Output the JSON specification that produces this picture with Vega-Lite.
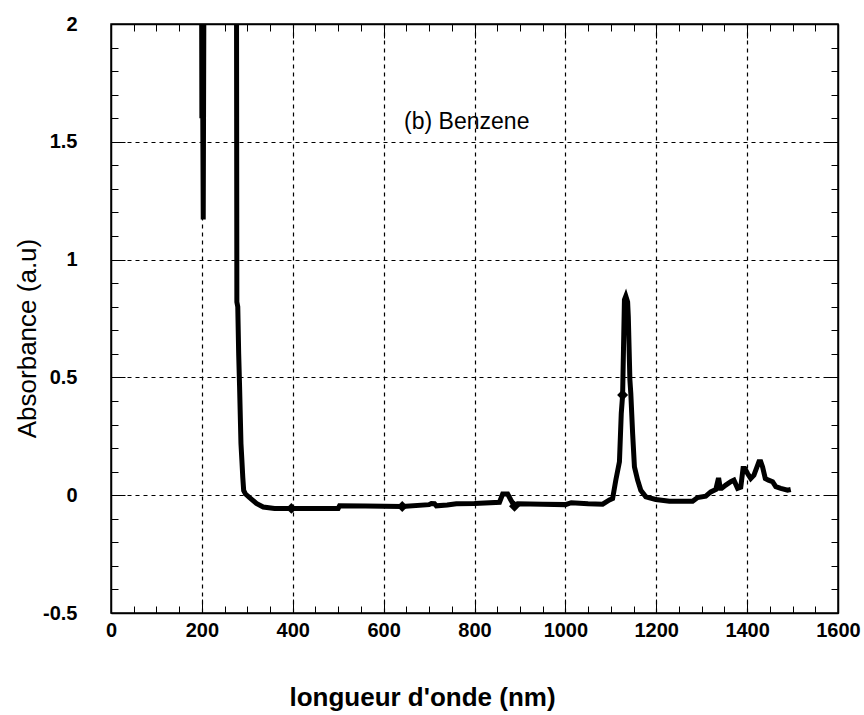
{
  "$schema": "https://vega.github.io/schema/vega-lite/v6.json",
  "width": 727,
  "height": 589,
  "autosize": {"type": "none"},
  "padding": {"left": 111, "top": 24, "right": 26, "bottom": 102},
  "background": "white",
  "config": {
    "font": "Liberation Sans",
    "view": {"stroke": "black", "strokeWidth": 1.5}
  },
  "datasets": {
    "spectrum": [
      {"nm": 199, "abs": 2.5}, {"nm": 200, "abs": 1.6}, {"nm": 201, "abs": 2.5}, {"nm": 202, "abs": 1.6},
      {"nm": 203, "abs": 1.17}, {"nm": 205, "abs": 2.5}, {"nm": 240, "abs": 2.5}, {"nm": 276, "abs": 2.5},
      {"nm": 277, "abs": 0.82}, {"nm": 279, "abs": 0.8}, {"nm": 281, "abs": 0.6}, {"nm": 283, "abs": 0.46},
      {"nm": 285, "abs": 0.3}, {"nm": 286, "abs": 0.22}, {"nm": 288, "abs": 0.15}, {"nm": 290, "abs": 0.077},
      {"nm": 292, "abs": 0.02}, {"nm": 296, "abs": 0.005}, {"nm": 305, "abs": -0.01}, {"nm": 320, "abs": -0.035},
      {"nm": 335, "abs": -0.05}, {"nm": 360, "abs": -0.056}, {"nm": 397, "abs": -0.056}, {"nm": 450, "abs": -0.056},
      {"nm": 500, "abs": -0.056}, {"nm": 503, "abs": -0.045}, {"nm": 560, "abs": -0.046}, {"nm": 641, "abs": -0.048},
      {"nm": 700, "abs": -0.04}, {"nm": 705, "abs": -0.035}, {"nm": 712, "abs": -0.036}, {"nm": 716, "abs": -0.045},
      {"nm": 740, "abs": -0.042}, {"nm": 760, "abs": -0.036}, {"nm": 800, "abs": -0.035}, {"nm": 855, "abs": -0.03},
      {"nm": 862, "abs": 0.005}, {"nm": 873, "abs": 0.005}, {"nm": 880, "abs": -0.02}, {"nm": 888, "abs": -0.047},
      {"nm": 895, "abs": -0.036}, {"nm": 950, "abs": -0.038}, {"nm": 1000, "abs": -0.04}, {"nm": 1013, "abs": -0.032},
      {"nm": 1050, "abs": -0.036}, {"nm": 1082, "abs": -0.038}, {"nm": 1097, "abs": -0.02}, {"nm": 1104, "abs": -0.014},
      {"nm": 1111, "abs": 0.064}, {"nm": 1119, "abs": 0.142}, {"nm": 1123, "abs": 0.347}, {"nm": 1126, "abs": 0.425},
      {"nm": 1128, "abs": 0.63}, {"nm": 1130, "abs": 0.83}, {"nm": 1133, "abs": 0.845}, {"nm": 1137, "abs": 0.82},
      {"nm": 1138.5, "abs": 0.758}, {"nm": 1142, "abs": 0.489}, {"nm": 1144, "abs": 0.432}, {"nm": 1148, "abs": 0.262},
      {"nm": 1152, "abs": 0.12}, {"nm": 1159, "abs": 0.064}, {"nm": 1166, "abs": 0.021}, {"nm": 1177, "abs": -0.007},
      {"nm": 1199, "abs": -0.018}, {"nm": 1229, "abs": -0.026}, {"nm": 1250, "abs": -0.026}, {"nm": 1280, "abs": -0.026},
      {"nm": 1291, "abs": -0.01}, {"nm": 1309, "abs": -0.004}, {"nm": 1320, "abs": 0.014}, {"nm": 1331, "abs": 0.024},
      {"nm": 1336, "abs": 0.064}, {"nm": 1338, "abs": 0.064}, {"nm": 1341, "abs": 0.029}, {"nm": 1344, "abs": 0.029},
      {"nm": 1353, "abs": 0.043}, {"nm": 1364, "abs": 0.057}, {"nm": 1371, "abs": 0.064}, {"nm": 1379, "abs": 0.029},
      {"nm": 1386, "abs": 0.034}, {"nm": 1391, "abs": 0.113}, {"nm": 1395, "abs": 0.113}, {"nm": 1401, "abs": 0.092},
      {"nm": 1408, "abs": 0.071}, {"nm": 1415, "abs": 0.085}, {"nm": 1426, "abs": 0.142}, {"nm": 1430, "abs": 0.142},
      {"nm": 1434, "abs": 0.12}, {"nm": 1440, "abs": 0.071}, {"nm": 1447, "abs": 0.064}, {"nm": 1456, "abs": 0.057},
      {"nm": 1463, "abs": 0.036}, {"nm": 1474, "abs": 0.029}, {"nm": 1489, "abs": 0.021}, {"nm": 1496, "abs": 0.024}
    ],
    "markers": [
      {"nm": 397, "abs": -0.056}, {"nm": 641, "abs": -0.048}, {"nm": 888, "abs": -0.047}, {"nm": 1126, "abs": 0.425}
    ],
    "label": [
      {"nm": 783, "abs": 1.585, "text": "(b) Benzene"}
    ]
  },
  "resolve": {"axis": {"x": "independent", "y": "independent"}},
  "layer": [
    {
      "data": {"name": "spectrum"},
      "mark": {"type": "line", "color": "black", "strokeWidth": 5, "clip": true},
      "encoding": {
        "x": {
          "field": "nm", "type": "quantitative",
          "scale": {"domain": [0, 1600], "nice": false, "zero": false},
          "axis": {
            "orient": "bottom",
            "values": [0,50,100,150,200,250,300,350,400,450,500,550,600,650,700,750,800,850,900,950,1000,1050,1100,1150,1200,1250,1300,1350,1400,1450,1500,1550,1600],
            "labelExpr": "datum.value % 200 === 0 ? '' + datum.value : ''",
            "labelFlush": false, "labelOverlap": false, "labelBound": false,
            "labelFont": "Liberation Sans", "labelFontSize": 20, "labelFontWeight": "bold", "labelColor": "black",
            "labelPadding": 21,
            "grid": true, "gridColor": "black", "gridDash": [4, 4], "gridWidth": 1.2,
            "gridOpacity": {"condition": {"test": "datum.value % 200 === 0 && datum.value > 0 && datum.value < 1600", "value": 1}, "value": 0},
            "tickColor": "black", "tickWidth": 1,
            "tickSize": {"condition": {"test": "datum.value % 200 === 0", "value": -14}, "value": -7},
            "domainColor": "black", "domainWidth": 1.5,
            "title": "longueur d'onde (nm)",
            "titleFont": "Liberation Sans", "titleFontSize": 26, "titleFontWeight": "bold", "titleColor": "black",
            "titleX": 311, "titleY": 84, "titleAlign": "center", "titleBaseline": "middle"
          }
        },
        "y": {
          "field": "abs", "type": "quantitative",
          "scale": {"domain": [-0.5, 2], "nice": false, "zero": false},
          "axis": {
            "orient": "left",
            "values": [-0.5,-0.4,-0.3,-0.2,-0.1,0,0.1,0.2,0.3,0.4,0.5,0.6,0.7,0.8,0.9,1,1.1,1.2,1.3,1.4,1.5,1.6,1.7,1.8,1.9,2],
            "labelExpr": "abs(datum.value*2 - round(datum.value*2)) < 0.000001 ? '' + datum.value : ''",
            "labelFlush": false, "labelOverlap": false, "labelBound": false,
            "labelFont": "Liberation Sans", "labelFontSize": 20, "labelFontWeight": "bold", "labelColor": "black",
            "labelPadding": 48,
            "grid": true, "gridColor": "black", "gridDash": [4, 4], "gridWidth": 1.2,
            "gridOpacity": {"condition": {"test": "abs(datum.value*2 - round(datum.value*2)) < 0.000001 && datum.value > -0.4 && datum.value < 1.9", "value": 1}, "value": 0},
            "tickColor": "black", "tickWidth": 1,
            "tickSize": {"condition": {"test": "abs(datum.value*2 - round(datum.value*2)) < 0.000001", "value": -14}, "value": -7},
            "domainColor": "black", "domainWidth": 1.5,
            "title": "Absorbance (a.u)",
            "titleFont": "Liberation Sans", "titleFontSize": 26, "titleFontWeight": "normal", "titleColor": "black",
            "titleX": -84, "titleY": 314, "titleAngle": -90, "titleAlign": "center", "titleBaseline": "middle"
          }
        }
      }
    },
    {
      "data": {"name": "markers"},
      "mark": {"type": "point", "shape": "diamond", "filled": true, "color": "black", "size": 120, "opacity": 1},
      "encoding": {
        "x": {"field": "nm", "type": "quantitative", "axis": null},
        "y": {"field": "abs", "type": "quantitative", "axis": null}
      }
    },
    {
      "data": {"name": "label"},
      "mark": {"type": "text", "font": "Liberation Sans", "fontSize": 23, "color": "black", "align": "center", "baseline": "middle"},
      "encoding": {
        "x": {"field": "nm", "type": "quantitative", "axis": null},
        "y": {"field": "abs", "type": "quantitative", "axis": null},
        "text": {"field": "text"}
      }
    },
    {
      "data": {"name": "markers"},
      "mark": {"type": "point", "opacity": 0},
      "encoding": {
        "x": {
          "field": "nm", "type": "quantitative",
          "axis": {
            "orient": "top",
            "values": [0,50,100,150,200,250,300,350,400,450,500,550,600,650,700,750,800,850,900,950,1000,1050,1100,1150,1200,1250,1300,1350,1400,1450,1500,1550,1600],
            "labels": false, "grid": false, "title": null,
            "tickColor": "black", "tickWidth": 1,
            "tickSize": {"condition": {"test": "datum.value % 200 === 0", "value": -14}, "value": -7},
            "domainColor": "black", "domainWidth": 1.5
          }
        },
        "y": {
          "field": "abs", "type": "quantitative",
          "axis": {
            "orient": "right",
            "values": [-0.5,-0.4,-0.3,-0.2,-0.1,0,0.1,0.2,0.3,0.4,0.5,0.6,0.7,0.8,0.9,1,1.1,1.2,1.3,1.4,1.5,1.6,1.7,1.8,1.9,2],
            "labels": false, "grid": false, "title": null,
            "tickColor": "black", "tickWidth": 1,
            "tickSize": {"condition": {"test": "abs(datum.value*2 - round(datum.value*2)) < 0.000001", "value": -14}, "value": -7},
            "domainColor": "black", "domainWidth": 1.5
          }
        }
      }
    }
  ]
}
